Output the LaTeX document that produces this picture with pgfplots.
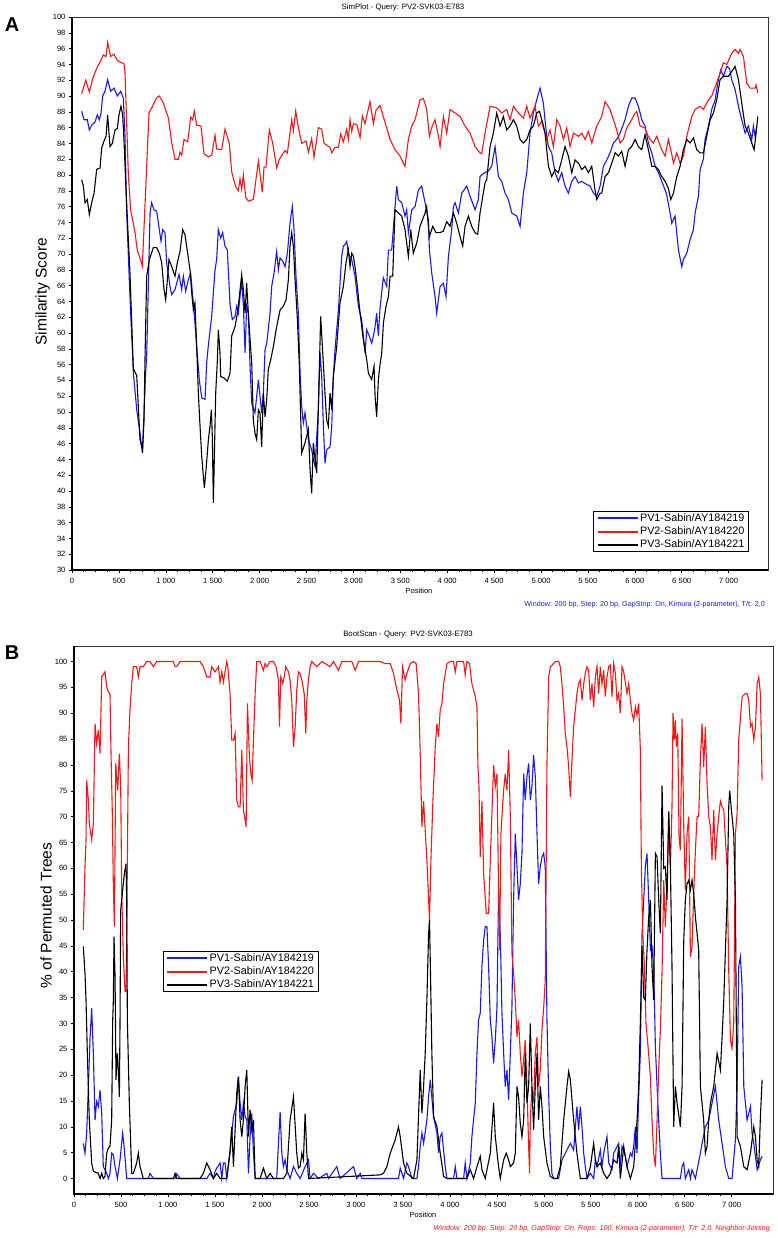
\documentclass[border=0pt]{standalone}
\usepackage{fontspec}
\setmainfont{Liberation Sans}
\usepackage{pgfplots}
\pgfplotsset{compat=1.18}
\definecolor{pvblue}{RGB}{25,25,235}
\definecolor{pvred}{RGB}{240,25,25}

\pgfplotsset{
  simstyle/.style={
    scale only axis,
    anchor=south west,
    xmin=0,
    axis line style={line width=0.5pt, black!80},
    tick pos=left,
    tick align=outside,
    major tick length=3pt,
    minor tick length=1.6pt,
    tick style={black, line width=0.5pt},
    xtick={0,500,...,7000},
    minor x tick num=3,
    tick label style={font=\fontsize{7.6}{9}\selectfont},
    /pgf/number format/assume math mode=true,
    /pgf/number format/1000 sep={\ },
    scaled ticks=false,
    xticklabel style={yshift=-1.5pt},
    legend cell align=left,
    legend style={draw=black, line width=0.9pt,
      font=\fontsize{10.8}{12.5}\selectfont,
      inner xsep=3pt, inner ysep=1pt, row sep=1.4pt,
      nodes={inner sep=1.2pt}},
    every axis plot/.append style={line width=1.1pt, mark=none},
    after end axis/.code={\draw[line width=1.4pt, black] (rel axis cs:0,1) -- (rel axis cs:0,0) -- (rel axis cs:1,0);},
  }
}

\begin{document}
\begin{tikzpicture}
\path[use as bounding box] (0pt,0pt) rectangle (778pt,-1238pt);

% ---------------- A: SimPlot ----------------
\begin{axis}[simstyle,
  at={(72pt,-570pt)}, width=696pt, height=553pt,
  xmax=7420, ymin=30, ymax=100,
  ytick={30,32,...,100},
  legend image code/.code={\draw[#1, line width=2pt] (0pt,0pt) -- (40pt,0pt);},
  legend style={at={(0.9727,0.0325)}, anchor=south east},
]
\addplot[pvblue] coordinates {
(103,88.06)(128,87)(163,87)(185,85.7)(210,86.3)(245,86.7)(270,87.6)(291,87)(309,87.8)(327,90)(352,90.6)(380,92.07)(412,90.6)(448,91)(483,90)(519,90.6)(547,89.75)
(565,85)(583,75.2)(618,64.6)(654,55)(690,50.3)(725,47.3)(750,44.8)(768,50)(785,55)(796,57)(832,75.2)(849,76.5)(874,75.6)(903,75.4)(931,73.1)(949,71.6)(967,73.1)(992,72.7)
(1009,68.9)(1045,65.9)(1063,64.85)(1098,65.5)(1116,66.3)(1141,67.4)(1169,65.5)(1187,67.2)(1212,65.3)(1240,66.75)(1265,67.6)(1287,64.6)(1301,62.9)(1329,58.3)(1358,54)(1383,51.8)(1418,51.6)(1436,56.2)(1454,58.5)(1489,62.1)
(1525,68)(1542,69.3)(1560,73.1)(1585,72)(1606,72.7)(1631,71)(1656,70.5)(1685,63.6)(1709,61.7)(1738,62.1)(1756,63.4)(1773,62.5)(1791,64.6)(1809,66.75)(1827,63.4)(1845,57.5)(1862,63.4)(1880,62.5)(1898,55.8)(1916,51.1)(1951,49.9)(1987,54.1)
(2004,52)(2022,49.9)(2040,52.4)(2058,57.9)(2076,58.7)(2111,62.5)(2129,65.9)(2154,67.6)(2182,70.3)(2200,68)(2218,69.5)(2246,69.1)(2271,68.4)(2296,70.1)(2324,73.9)(2349,76)(2367,73.1)(2388,67.2)(2413,62.5)(2431,55)(2449,50.7)(2466,48.6)(2484,49.9)
(2502,48.2)(2520,46.5)(2555,45.2)(2573,44)(2591,43.1)(2626,50.3)(2644,57.5)(2662,54.5)(2680,48.2)(2697,43.5)(2715,45.2)(2751,45.6)(2769,48.2)(2786,54.5)(2804,57.9)(2840,62.9)(2875,69.7)(2893,71)(2911,71.2)(2929,71.6)(2946,70.1)(2982,69.3)
(3017,67.2)(3053,63.4)(3088,61.7)(3124,57.5)(3142,60.4)(3170,59.6)(3195,58.7)(3213,59.6)(3231,60.8)(3248,62.5)(3266,59.6)(3284,63.2)(3319,67)(3355,65.9)(3373,70.5)(3408,70.5)(3444,76)(3462,78.6)(3479,76.9)
(3515,76.5)(3550,74.8)(3568,75.6)(3586,72.7)(3622,75.6)(3657,76)(3693,78.1)(3728,78.6)(3764,76.5)(3799,74.3)(3810,70.55)(3835,67.6)(3870,64.6)(3888,62.5)(3924,65.9)(3959,66.3)(3987,64.6)
(4013,69.7)(4048,73.1)(4066,76)(4084,76.5)(4119,75.2)(4155,77.7)(4208,78.6)(4244,77.3)(4297,75.6)(4332,76.9)(4350,79.8)(4386,80.2)(4439,80.5)(4474,81.1)(4510,83.6)(4546,79.8)(4581,79.2)(4617,77.7)(4652,76.9)(4688,75.2)(4741,74.8)(4777,73.5)(4812,77.7)(4848,80.3)(4883,85.3)(4919,87.85)(4954,89.5)(4990,91)
(5025,89.1)(5061,84.9)(5079,83.6)(5114,82.8)(5150,80.3)(5185,79.2)(5221,80.3)(5256,78.6)(5292,77.7)(5328,79.2)(5363,79.8)(5399,79)(5434,79.2)(5487,78.8)(5523,78.6)(5559,77.7)(5594,77.3)(5630,78.6)(5665,81.1)(5701,81.9)(5736,82.8)(5772,84.05)(5807,84.5)(5843,85.3)(5896,87)(5932,88.7)(5967,89.75)
(6003,89.75)(6038,88.7)(6074,87)(6109,86.2)(6145,84.05)(6181,82.8)(6216,81.1)(6252,80.3)(6287,79.2)(6323,78.1)(6340,77.5)(6376,75.2)(6394,73.9)(6429,74.8)(6447,72.7)(6465,70.55)(6500,68.4)(6518,69.3)(6554,70.1)(6589,71.8)(6625,73.1)(6643,75.2)(6678,77.3)(6696,80.7)(6731,82)(6749,84.5)(6785,86.2)(6820,88.3)(6856,89.5)(6891,92.07)(6916,93.3)(6945,92.5)(6980,93.75)
(7009,93.5)(7033,92.07)(7069,90.8)(7105,88.7)(7140,87)(7176,85.3)(7211,86.2)(7247,84.5)(7264,86.2)(7282,84.9)(7300,86.2)
};
\addlegendentry{PV1-Sabin/AY184219}
\addplot[pvred] coordinates {
(103,90.3)(146,92)(185,90.5)(220,92.2)(263,93.5)(299,94.3)(334,95.2)(363,95)(380,96.8)(412,95)(448,95.3)(483,94.5)(512,94.3)(554,94.1)(565,93)(601,80)(625,75.6)(672,72.7)(697,70.4)(725,69.5)(750,68.5)(785,78)(821,87.9)(850,88.5)(903,89.8)(931,90)(974,89.1)
(1027,87.25)(1063,84.1)(1098,82)(1134,82)(1151,82.9)(1169,82.5)(1194,84.5)(1233,84.2)(1265,87.3)(1287,87)(1304,88.1)(1329,86.3)(1375,86.2)(1407,82.7)(1454,82.3)(1489,82.5)(1525,85)(1542,83.3)(1596,83.2)(1631,85.8)(1677,84)(1702,80.4)(1745,78.5)(1773,78)(1791,79.5)(1809,78.2)(1827,80)(1852,77.2)(1880,76.7)(1933,76.9)(1987,81.75)
(2029,77.8)(2047,81)(2068,81)(2104,85.7)(2140,84)(2182,80.9)(2211,82)(2271,83.1)(2296,82.8)(2342,87)(2360,85.6)(2385,88.1)(2413,86)(2449,84)(2495,84.3)(2520,82.9)(2555,84.6)(2580,82.25)(2602,84)(2626,86)(2662,85.8)(2687,84)(2751,83.5)(2769,82.8)(2804,83.5)(2840,83.5)(2865,85.2)(2893,84.2)(2929,85.8)(2946,84.5)(2964,87)(2982,85.5)
(3000,86.5)(3035,86.4)(3071,84.75)(3096,87.5)(3124,86.5)(3177,89.3)(3213,86.5)(3241,88.2)(3284,88.8)(3391,84.5)(3444,83.2)(3497,82.4)(3533,81.5)(3550,81.1)(3586,84.5)(3622,86.2)(3657,87)(3710,89.5)(3746,89.7)(3781,88.3)(3810,84.9)(3835,86)(3870,87)(3906,84.9)(3924,83.6)(3959,87.4)(3995,85.3)
(4030,88.3)(4084,87.85)(4137,87.4)(4190,86.2)(4244,85.3)(4297,83.6)(4350,82.8)(4368,82.7)(4403,85.3)(4457,88.7)(4528,88.5)(4581,87.85)(4634,88.3)(4670,87)(4706,88.7)(4759,87.85)(4812,87.2)(4848,88.7)(4883,87.2)(4936,88.7)(4972,86.2)
(5007,86.8)(5061,84.5)(5096,85.7)(5132,83.6)(5168,87)(5203,86.2)(5239,84.5)(5274,85.95)(5310,83.6)(5345,85.3)(5399,84.9)(5434,85.3)(5470,84.5)(5505,85.5)(5541,84.05)(5594,86.2)(5647,87.4)(5683,89.3)(5736,88.3)(5772,87)(5807,85.7)(5843,84.05)(5878,84.5)(5914,85.95)(5967,87)
(6003,87.85)(6021,88.06)(6056,86.2)(6109,85.95)(6127,85.3)(6163,84.5)(6198,84.05)(6234,84.9)(6287,83.2)(6323,82.4)(6358,84.5)(6394,82.6)(6412,81.5)(6447,82.8)(6483,81.5)(6518,82.4)(6554,84.9)(6607,87.4)(6643,88.3)(6696,88.7)(6731,88.3)(6785,89.5)(6820,90)(6873,91.65)(6909,92.9)(6945,94.2)(6980,94)
(7033,95.4)(7069,95.9)(7105,95.4)(7122,95.9)(7158,95)(7193,91.65)(7229,91)(7282,91)(7293,91.4)(7311,90.4)
};
\addlegendentry{PV2-Sabin/AY184220}
\addplot[black] coordinates {
(103,79.4)(121,78.6)(139,76.5)(163,76.9)(185,75)(210,76.5)(235,77.7)(263,80.7)(299,80.9)(316,83.4)(341,84.3)(363,84.9)(380,87.6)(405,83.6)(430,84)(458,85.7)(483,85.9)(501,87.6)(522,88.7)(540,87.6)(554,84.5)(576,78)(618,67.6)(654,55.5)(690,54.6)(707,50.7)(725,46.5)(753,45.2)(768,49)(778,56.6)(796,67.2)(825,69.3)(867,70.8)(903,70.8)(931,70.1)(956,68.9)(981,65.5)(999,64.2)
(1020,67.2)(1034,69.3)(1063,68.4)(1098,67.2)(1123,68.9)(1151,70.3)(1180,73.1)(1205,72.4)(1233,70.1)(1258,68)(1276,65.1)(1294,62.9)(1311,63.8)(1329,58.3)(1347,52.4)(1365,48.2)(1383,44.4)(1400,41.9)(1411,40.4)(1429,42.7)(1454,46.5)(1471,48.2)(1486,50.3)(1496,46.9)(1507,38.5)(1517,44)(1532,52.4)(1550,56.6)(1560,60.4)(1578,57.5)(1585,54.5)(1621,54.3)(1656,53.9)(1685,54.9)
(1702,59.6)(1738,60.8)(1763,62.5)(1784,64.6)(1809,67.4)(1827,65.5)(1845,62.5)(1862,66.3)(1880,62.5)(1898,59.2)(1916,56.2)(1933,49)(1951,47.3)(1969,46.5)(1987,50.3)(2004,49.9)(2022,45.6)(2040,52.4)(2058,49.4)(2076,51.6)(2093,55.4)(2118,56.6)(2147,58.3)(2182,60.8)(2218,62.9)(2253,63.4)(2282,64.2)(2307,66.75)(2324,71)(2342,72.7)(2360,71)(2378,66.75)(2403,61.7)(2424,55.8)(2431,52.4)(2449,44.8)(2484,46.1)
(2520,47.8)(2538,42.7)(2555,39.7)(2573,46.1)(2591,44)(2609,42.3)(2626,50.3)(2651,62.1)(2673,57.5)(2697,52.4)(2715,49)(2733,48.2)(2751,52.4)(2769,50.3)(2786,54.5)(2822,58.3)(2857,63.8)(2893,65.9)(2921,68.9)(2946,70.55)(2964,68.4)(2982,70.1)
(3000,69.7)(3017,68.4)(3042,65.9)(3071,62.5)(3106,59.15)(3142,56.6)(3160,54.9)(3195,54.1)(3220,55.8)(3231,52)(3248,49.4)(3266,54.1)(3284,56)(3302,57.5)(3320,61.3)(3348,63.4)(3373,64.6)(3391,67.2)(3419,67.2)(3444,75.6)(3479,75.2)
(3515,74.8)(3550,73.1)(3586,69.7)(3611,73.1)(3639,70.1)(3675,71.4)(3710,73.5)(3764,75.2)(3781,76)(3810,72.2)(3846,73.5)(3881,72.7)(3924,72.7)(3959,72.9)(3995,74.1)
(4030,73.5)(4066,75.2)(4101,73.9)(4137,72.2)(4165,71)(4190,73.5)(4226,74.8)(4261,73.5)(4297,72.7)(4325,72.5)(4350,75.2)(4403,79)(4421,79.4)(4457,83.6)(4492,85.3)(4528,87.85)(4563,86.2)(4599,87.4)(4634,85.7)(4670,86.2)(4706,87)(4741,86.2)(4777,84.5)(4812,84.05)(4848,84.5)(4883,85.7)(4919,86.2)(4954,87.85)(4983,88.06)
(5018,86.6)(5043,85.3)(5079,81.1)(5114,79.8)(5150,80.7)(5185,80.3)(5221,81.9)(5256,83.6)(5292,82.4)(5328,80.3)(5363,81.9)(5399,81.5)(5434,80.7)(5470,81.1)(5505,80.3)(5541,81.1)(5576,78.1)(5594,76.9)(5630,77.7)(5647,77.7)(5683,79.8)(5719,80.3)(5754,81.5)(5790,82.8)(5825,82.4)(5861,83)(5896,81.1)(5932,83.2)(5967,83.6)
(6003,84.5)(6038,83.6)(6074,83.2)(6109,85.1)(6145,83.2)(6181,81.1)(6216,81.1)(6252,80.7)(6287,79.8)(6323,79.2)(6358,78.3)(6383,76.9)(6412,77.7)(6447,79.8)(6483,81.1)(6518,83.2)(6554,84.5)(6589,84.05)(6625,84.7)(6660,83.2)(6696,82.8)(6731,82.8)(6767,84.9)(6803,87)(6838,87.85)(6873,89.5)(6909,92.07)(6945,92.5)(6998,92.5)
(7033,93.1)(7069,93.75)(7105,92.07)(7140,89.1)(7176,86.2)(7211,85.3)(7247,84.05)(7272,83.2)(7293,85.3)(7311,87.4)
};
\addlegendentry{PV3-Sabin/AY184221}
\end{axis}

% ---------------- B: BootScan ----------------
\begin{axis}[simstyle,
  at={(74pt,-1194pt)}, width=699pt, height=548pt,
  xmax=7440, ymin=-3, ymax=103,
  ytick={0,5,...,100},
  legend image code/.code={\draw[#1, line width=2pt] (0pt,0pt) -- (40pt,0pt);},
  legend style={at={(0.1273,0.4432)}, anchor=north west},
]
\addplot[pvblue] coordinates {
(99,6.8)(117,4.9)(135,8.8)(153,17.8)(170,26.8)(188,33)(206,24.2)(224,11.3)(241,14.9)(259,13.9)(277,17.1)(295,12.6)(312,2.3)(348,1)(366,0)(383,1)(401,4.9)(419,4.6)(437,2.3)(462,0)(490,3.6)(518,8.8)(533,6.2)(561,0)(790,0)(809,1)(845,0)
(1075,0)(1093,0.9)(1129,0)(1413,0)(1448,1)(1484,0)(1502,1.4)(1519,2)(1555,3)(1573,0)(1590,3)(1608,3)(1626,0)(1661,4.9)(1697,12)(1732,14.6)(1750,19.7)(1768,14.6)(1786,11.3)(1803,14.6)(1821,12)(1839,11.3)(1857,1)(1874,8.1)(1892,12.6)(1910,4.9)(1928,0)
(2158,0)(2176,6.8)(2194,12.9)(2212,4.9)(2229,2.3)(2247,3.6)(2265,1.7)(2300,0)(2336,2.3)(2371,1)(2407,0)(2460,2.3)(2496,3.6)(2513,0)(2549,1)(2602,0)(2691,1)(2709,0)(2797,2.3)(2833,0)(2975,2.3)(3010,0)(3046,1)(3064,0)
(3454,0)(3472,2)(3508,0)(3543,3)(3561,2.3)(3596,0)(3650,0)(3667,2.3)(3685,6.2)(3703,8.8)(3721,6.8)(3756,11.3)(3774,15.8)(3792,19.1)(3827,12)(3863,8.8)(3880,4.9)(3898,8.1)(3916,8.8)(3951,2.3)(3969,0)
(4040,0)(4058,2.3)(4076,0)(4147,0)(4164,3)(4182,0)(4218,3)(4235,8.1)(4271,14.6)(4289,24.2)(4306,30.7)(4324,32)(4342,41)(4360,46.1)(4377,48.7)(4395,48.7)(4413,41)(4431,30.7)(4448,27.4)(4466,22.3)(4484,26.8)(4502,33)(4519,55.8)(4537,47.4)(4555,32)(4573,24.2)(4590,17.8)(4608,21)(4626,15.2)(4644,24.2)(4661,33)(4679,53.9)(4697,66.7)(4715,60.3)(4732,53.9)(4750,57)(4768,62.9)(4786,78.3)(4803,73.2)(4821,77.7)(4839,80.3)(4857,73.2)(4874,75.8)(4892,81.9)(4910,77.7)(4928,66.7)(4945,57)(4963,60.3)(4981,62.2)(4999,62.9)
(5016,60.3)(5034,30.7)(5052,16.5)(5070,6.2)(5087,1)(5105,0)(5158,0)(5194,3.6)(5229,4.9)(5265,6.2)(5283,6.8)(5318,5.5)(5353,13.9)(5371,9.4)(5389,13.9)(5407,10)(5425,4.9)(5442,2.3)(5460,0)(5496,1)(5531,0)(5549,3.6)(5567,2.3)(5602,5.5)(5620,2.3)(5638,4.9)(5673,8.1)(5691,3)(5726,1.7)(5744,4.9)(5780,6.2)(5797,6.8)(5815,2.3)(5833,6.2)(5868,4.3)(5886,2.3)(5904,3.6)(5922,4.9)(5939,4.3)(5957,6.2)(5975,10)(5993,4.9)
(6010,15.8)(6028,24.2)(6046,47.4)(6064,53.9)(6081,60.3)(6099,62.9)(6117,53.9)(6135,44.2)(6152,44.8)(6170,41)(6188,25.5)(6206,17.8)(6223,11.3)(6241,4.9)(6259,0)(6454,0)(6472,2.3)(6490,3)(6507,0)(6543,1.7)(6561,0)(6578,1.7)(6614,0)(6667,4.9)(6685,6.8)(6720,10)(6756,11.3)(6791,14.6)(6827,17.8)(6862,11.3)(6898,6.8)(6933,2.3)(6969,0)
(7004,0)(7040,7.5)(7058,17.8)(7075,41)(7093,42.9)(7111,37)(7129,17.8)(7164,11.3)(7200,13.9)(7217,8.8)(7235,6.8)(7271,1.7)(7306,3.6)(7324,4.3)
};
\addlegendentry{PV1-Sabin/AY184219}
\addplot[pvred] coordinates {
(99,48.1)(117,60.3)(128,65.5)(135,77)(153,73.2)(163,68.7)(188,65.5)(206,68.7)(224,88)(241,84.1)(259,86.7)(277,82.2)(295,97)(330,98)(348,95.1)(366,94.1)(383,93.8)(394,82.2)(408,70.6)(419,56.4)(430,48.7)(444,80.3)(454,77.7)(465,75.1)(483,82.2)(497,75.8)(508,55.2)(525,42.9)(543,36.2)(554,36.2)(561,47.4)(579,83.5)(596,90.6)(614,95.7)(632,99)(667,99)(685,97)(703,99)(738,99)(774,100)(809,100)(845,99)(880,100)
(1058,100)(1076,99)(1093,99)(1129,100)(1342,100)(1377,99)(1413,97)(1448,97)(1466,99)(1502,98)(1537,99)(1555,96)(1573,98)(1590,96)(1608,98)(1626,100)(1637,99)(1661,93.8)(1679,84.8)(1697,84.8)(1715,86.1)(1732,73.2)(1750,71.9)(1768,71.9)(1786,82.9)(1803,71.3)(1821,69.3)(1832,68)(1846,91.9)(1867,81.6)(1882,78.3)(1896,77)(1910,84.8)(1928,93.8)(1945,100)(1981,100)
(2016,98.3)(2034,99.6)(2052,99)(2087,100)(2123,100)(2151,99)(2176,96.4)(2187,87.4)(2201,97)(2222,95.7)(2237,97)(2254,99)(2283,98)(2300,96.4)(2318,92.5)(2336,83.5)(2354,87.4)(2371,94.5)(2389,98)(2407,97.7)(2425,96.4)(2450,93.8)(2467,86.1)(2478,92.5)(2496,96.7)(2513,99)(2531,100)(2584,99)(2638,100)(2726,99)(2762,100)(2815,98.3)(2851,100)(2957,100)(2993,98.3)
(3028,100)(3259,100)(3312,99.6)(3366,99.6)(3401,97.7)(3437,94.5)(3465,92.5)(3479,88)(3497,99)(3525,96.4)(3543,97.7)(3579,99.6)(3614,100)(3642,99.6)(3667,93.8)(3685,82.2)(3703,68)(3721,73)(3756,61.6)(3784,50)(3799,61.6)(3820,73)(3845,83.5)(3863,88)(3880,85.4)(3898,90.6)(3916,91.9)(3934,95.7)(3969,99.6)
(4005,100)(4040,100)(4058,98)(4076,100)(4147,100)(4164,97.4)(4182,100)(4210,99.6)(4235,95.7)(4271,93.2)(4289,91.2)(4299,80)(4310,76)(4324,62.2)(4342,73)(4360,59)(4388,51.3)(4413,51.3)(4431,61.6)(4448,70.6)(4466,80)(4484,75.8)(4502,78.3)(4519,55.8)(4530,44.2)(4544,66.7)(4565,73)(4573,75.1)(4590,78.3)(4608,75.1)(4626,82.9)(4644,70)(4661,43.6)(4679,39.7)(4697,34.5)(4715,27.4)(4732,30.7)(4750,24.2)(4768,19.7)(4786,23)(4803,26.8)(4821,17.8)(4839,6.2)(4849,1)(4857,11.3)(4874,17.8)(4892,14.6)(4910,24.2)(4928,27.4)(4945,17.8)(4963,21)(4981,28.7)(4999,33)
(5016,38.4)(5034,80)(5052,97)(5070,99)(5087,99.3)(5123,100)(5158,100)(5176,99)(5194,95.7)(5212,91.2)(5229,86.1)(5247,83.5)(5265,79.6)(5283,73.8)(5300,80.9)(5318,87.4)(5336,90.6)(5353,93.8)(5371,95.7)(5389,96.4)(5407,92.5)(5425,95.7)(5442,97.7)(5460,99)(5478,98.3)(5496,92.5)(5513,95.7)(5531,91.2)(5549,97)(5567,99)(5584,93.8)(5602,99)(5620,95.7)(5638,98.3)(5655,93.2)(5673,97)(5691,99)(5709,99.3)(5726,93.2)(5744,99.6)(5762,97.7)(5780,92.5)(5797,93.8)(5815,90)(5833,99)(5851,98)(5886,93.8)(5904,95.7)(5922,92.5)(5939,90)(5957,88.65)(5975,91.2)(5993,89.6)
(6010,91.9)(6028,82.9)(6039,60)(6053,48)(6071,41)(6088,30)(6117,24)(6135,19.7)(6152,11.3)(6170,4.9)(6188,2.3)(6206,11.3)(6223,21)(6241,28.7)(6259,40)(6277,57.7)(6294,48.7)(6312,57)(6330,70.6)(6348,60)(6365,72)(6376,90)(6390,84.8)(6401,88.6)(6411,83.5)(6426,86.1)(6440,66)(6454,63.5)(6472,89)(6490,68)(6507,55.8)(6525,66.7)(6543,70)(6561,42.9)(6578,44.8)(6596,55.2)(6614,63.5)(6632,70)(6649,70)(6667,80.9)(6685,88)(6702,79.6)(6720,87.4)(6738,76.4)(6756,70)(6774,68)(6791,61.6)(6809,71.3)(6827,61.6)(6845,66.7)(6862,70)(6880,73)(6898,71.9)(6916,71.3)(6951,60)(6969,40)(6987,26.8)
(7004,25.2)(7022,30)(7040,66.7)(7058,70.6)(7075,84.8)(7111,93.2)(7146,93.8)(7164,93.8)(7182,92.5)(7200,87.4)(7217,88)(7235,84.8)(7253,87.4)(7271,95.7)(7288,97)(7306,93.8)(7324,77)
};
\addlegendentry{PV2-Sabin/AY184220}
\addplot[black] coordinates {
(99,44.9)(117,39.7)(128,34.5)(142,24.2)(163,11.3)(188,3)(206,1.4)(259,1)(277,0)(295,1)(312,0)(330,0.4)(348,4.9)(366,5.9)(383,6.2)(401,11.3)(412,30.7)(419,34.5)(426,46.8)(437,39)(447,19.1)(462,24.2)(472,21)(483,15.8)(490,30.7)(497,51.9)(518,55.8)(536,59)(554,60.9)(561,53.9)(568,30.7)(589,14.6)(614,1)(632,1)(667,3)(685,4.9)(703,2.3)(738,0)
(1058,0)(1076,1)(1093,0)(1342,0)(1377,1)(1413,3)(1448,1.7)(1484,0)(1519,1)(1555,0)(1626,0)(1661,5.5)(1679,10)(1697,2.3)(1732,16.5)(1750,19.7)(1768,11.3)(1786,8.1)(1803,11.3)(1821,17.8)(1839,21)(1857,8.1)(1874,13.3)(1892,9.4)(1910,11.3)(1928,0)(1981,0)
(2016,2)(2052,0)(2087,1)(2123,0)(2229,0)(2265,1)(2300,11.3)(2336,15.8)(2371,4.9)(2389,2)(2407,2.3)(2425,4.9)(2442,3.6)(2460,12.6)(2478,4.9)(2496,0)
(3259,0.7)(3294,1)(3330,2.3)(3366,4.9)(3419,7.5)(3454,10)(3472,8.1)(3508,3)(3543,1)(3614,0)(3650,3.6)(3685,21)(3703,12.6)(3721,17.8)(3738,24.2)(3756,34.5)(3774,47.4)(3784,50)(3799,35)(3809,24.2)(3827,12)(3863,10)(3898,4.9)(3934,0.4)(3969,0)
(4182,0)(4218,1.7)(4253,0)(4289,2.3)(4324,4.3)(4342,1.7)(4377,0)(4431,4.9)(4466,14.6)(4484,8.1)(4519,2.3)(4537,0)(4573,3.6)(4601,4.9)(4626,3.6)(4644,2.3)(4679,3)(4697,4.9)(4715,17.8)(4732,15.8)(4750,10.7)(4768,8.1)(4786,11.3)(4803,24.2)(4821,14.6)(4839,17.8)(4857,30)(4874,17.8)(4892,9.4)(4910,17.8)(4928,24.2)(4945,11.3)(4963,17.8)(4981,13.9)(4999,8.1)
(5034,3)(5070,0.4)(5105,0)(5141,0)(5176,2.3)(5212,11.3)(5247,17.8)(5265,20.7)(5283,19.1)(5318,11.3)(5353,4.9)(5389,0)(5460,0)(5496,2.3)(5531,6.8)(5549,3.6)(5567,2.3)(5602,3)(5638,1)(5673,0)(5709,1)(5744,3.6)(5780,3)(5797,6.2)(5815,0)(5851,6.2)(5886,2.3)(5922,0)(5957,2.3)(5993,11.3)
(6010,17.8)(6028,30)(6046,45)(6064,35)(6081,34.5)(6099,44.2)(6117,50.6)(6135,53.9)(6152,41)(6170,34.5)(6188,62.9)(6206,62.2)(6223,53.9)(6241,47.4)(6259,76)(6277,60)(6294,60.3)(6312,53.9)(6330,71)(6348,60.3)(6365,41)(6383,10)(6401,17.8)(6419,14.6)(6454,10)(6472,17.8)(6490,46)(6507,53.9)(6525,57)(6543,57.7)(6561,55.8)(6578,57.7)(6596,55.2)(6614,50.6)(6632,47.4)(6649,44.2)(6667,17.8)(6702,11.3)(6720,4.9)(6738,6.2)(6756,11.3)(6774,14.6)(6809,17.8)(6845,24.2)(6880,21)(6898,27.4)(6916,34.5)(6951,53.9)(6969,72)(6979,75)
(7004,70)(7022,66.7)(7040,53.9)(7058,8.1)(7093,6.2)(7129,2.3)(7164,1.7)(7200,4.9)(7235,10)(7253,8.1)(7271,3.6)(7288,2.3)(7306,12)(7324,19.1)
};
\addlegendentry{PV3-Sabin/AY184221}
\end{axis}

% ---------------- texts ----------------
\node[font=\fontsize{20}{20}\selectfont\bfseries] at (12pt,-25pt) {A};
\node[font=\fontsize{20}{20}\selectfont\bfseries] at (12pt,-653pt) {B};
\node[font=\fontsize{7.8}{9}\selectfont] at (403pt,-7pt) {SimPlot - Query: PV2-SVK03-E783};
\node[font=\fontsize{7.8}{9}\selectfont] at (408pt,-635pt) {BootScan - Query: PV2-SVK03-E783};
\node[rotate=90, font=\fontsize{15.5}{16}\selectfont] at (42.5pt,-291.7pt) {Similarity Score};
\node[rotate=90, font=\fontsize{15.5}{16}\selectfont] at (46pt,-915.7pt) {\% of Permuted Trees};
\node[font=\fontsize{7.5}{9}\selectfont] at (419pt,-590.5pt) {Position};
\node[font=\fontsize{7.5}{9}\selectfont] at (423pt,-1214.5pt) {Position};
\node[anchor=east, inner sep=0pt, text=pvblue, font=\fontsize{7.2}{9}\selectfont] at (765pt,-604.5pt) {Window: 200 bp, Step: 20 bp, GapStrip: On, Kimura (2-parameter), T/t: 2,0};
\node[anchor=east, inner sep=0pt, text=pvred, font=\fontsize{7.2}{9}\selectfont\itshape] at (770pt,-1229pt) {Window: 200 bp, Step: 20 bp, GapStrip: On, Reps: 100, Kimura (2-parameter), T/t: 2,0, Neighbor-Joining};
\end{tikzpicture}
\end{document}
